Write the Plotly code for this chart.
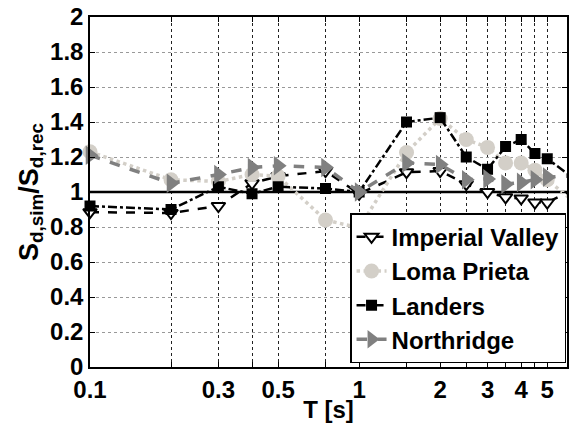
import numpy as np
import plotly.graph_objects as go

T = [0.1, 0.2, 0.3, 0.4, 0.5, 0.75, 1, 1.5, 2, 2.5, 3, 3.5, 4, 4.5, 5, 6]
imperial_valley = [0.885, 0.88, 0.92, 1.05, 1.09, 1.12, 0.99, 1.113, 1.12, 1.045, 1.0, 0.97, 0.963, 0.94, 0.94, 1.0]
loma_prieta = [1.23, 1.07, 1.06, 1.10, 1.09, 0.84, 0.795, 1.226, 1.42, 1.30, 1.255, 1.166, 1.166, 1.125, 1.07, 0.97]
landers = [0.92, 0.90, 1.03, 0.99, 1.03, 1.02, 1.0, 1.40, 1.425, 1.20, 1.13, 1.26, 1.30, 1.22, 1.19, 1.10]
northridge = [1.21, 1.05, 1.10, 1.14, 1.15, 1.14, 1.0, 1.166, 1.157, 1.07, 1.075, 1.045, 1.055, 1.07, 1.085, 1.09]

grid_T = [0.1, 0.2, 0.3, 0.4, 0.5, 0.75, 1, 1.5, 2, 2.5, 3, 3.5, 4, 4.5, 5]
labelled = {0.1: "0.1", 0.3: "0.3", 0.5: "0.5", 1: "1", 2: "2", 3: "3", 4: "4", 5: "5"}
tick_text = [labelled.get(t, "") for t in grid_T]
y_ticks = [0, 0.2, 0.4, 0.6, 0.8, 1, 1.2, 1.4, 1.6, 1.8, 2]
y_text = ["0", "0.2", "0.4", "0.6", "0.8", "1", "1.2", "1.4", "1.6", "1.8", "2"]
ref_x = [0.1, 6]
ref_y = [1, 1]

FONT = "Liberation Sans, Arial, Helvetica, sans-serif"
FS = 24

fig = go.Figure()
fig.add_trace(go.Scatter(x=ref_x, y=ref_y, mode="lines", line=dict(color="black", width=2.5),
                         showlegend=False, hoverinfo="skip"))
fig.add_trace(go.Scatter(x=T, y=imperial_valley, name="Imperial Valley", mode="lines+markers",
                         line=dict(color="black", width=2.5, dash="dash"),
                         marker=dict(symbol="triangle-down", size=12, color="white",
                                     line=dict(color="black", width=2)),
                         cliponaxis=False))
fig.add_trace(go.Scatter(x=T, y=loma_prieta, name="Loma Prieta", mode="lines+markers",
                         line=dict(color="#d3cfc8", width=3.5, dash="dot"),
                         marker=dict(symbol="circle", size=15, color="#d3cfc8"),
                         cliponaxis=False))
fig.add_trace(go.Scatter(x=T, y=landers, name="Landers", mode="lines+markers",
                         line=dict(color="black", width=2.5, dash="dashdot"),
                         marker=dict(symbol="square", size=11, color="black"),
                         cliponaxis=False))
fig.add_trace(go.Scatter(x=T, y=northridge, name="Northridge", mode="lines+markers",
                         line=dict(color="#808080", width=3.5, dash="dash"),
                         marker=dict(symbol="triangle-right", size=17, color="#808080"),
                         cliponaxis=False))

fig.update_layout(
    width=572, height=423,
    margin=dict(l=90, r=3, t=12, b=56),
    paper_bgcolor="white", plot_bgcolor="white",
    font=dict(family=FONT, size=FS, color="black", weight="bold"),
    xaxis=dict(type="log", range=[np.log10(0.1), np.log10(5.92)],
               tickvals=grid_T, ticktext=tick_text, tickangle=0,
               showgrid=True, gridcolor="#222222", griddash="dot", gridwidth=1,
               ticks="inside", ticklen=5, tickcolor="black", mirror="ticks",
               showline=True, linecolor="black", linewidth=1.5, zeroline=False,
               ticklabeloverflow="allow",
               tickfont=dict(size=FS, family=FONT, weight="bold"),
               title=dict(text="T [s]", font=dict(size=FS, family=FONT, weight="bold"), standoff=0)),
    yaxis=dict(range=[0, 2.0001], tickvals=y_ticks, ticktext=y_text,
               showgrid=True, gridcolor="#999999", griddash="dot", gridwidth=1,
               ticks="inside", ticklen=5, tickcolor="black", mirror="ticks",
               showline=True, linecolor="black", linewidth=1.5, zeroline=False,
               ticklabeloverflow="allow",
               tickfont=dict(size=FS, family=FONT, weight="bold"),
               title=dict(text="S<sub>d,sim</sub>/S<sub>d,rec</sub>",
                          font=dict(size=27, family=FONT, weight="bold"), standoff=4)),
    legend=dict(x=0.998, xanchor="right", y=0.011, yanchor="bottom",
                bgcolor="white", bordercolor="black", borderwidth=1.5,
                font=dict(size=FS, family=FONT, weight="bold", color="black"),
                tracegroupgap=0, itemwidth=30),
)

fig.write_html("out.html")
